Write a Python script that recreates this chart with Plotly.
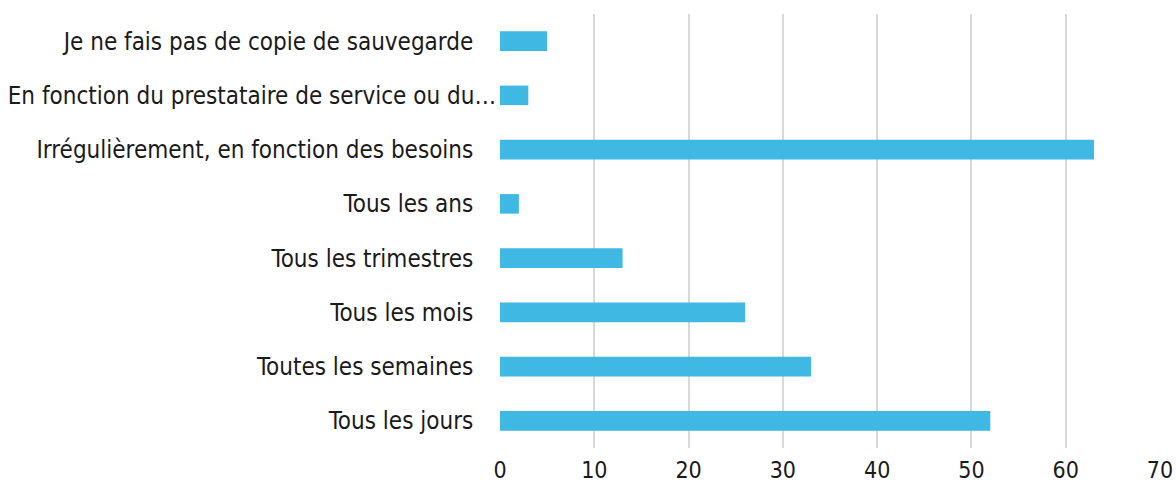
import plotly.graph_objects as go

categories = [
    "Tous les jours",
    "Toutes les semaines",
    "Tous les mois",
    "Tous les trimestres",
    "Tous les ans",
    "Irrégulièrement, en fonction des besoins",
    "En fonction du prestataire de service ou du…",
    "Je ne fais pas de copie de sauvegarde",
]
values = [52, 33, 26, 13, 2, 63, 3, 5]
x_ticks = [0, 10, 20, 30, 40, 50, 60, 70]

FONT = "DejaVu Sans Condensed, sans-serif"
TEXT_COLOR = "#1a1a1a"

ticktext = [c if c.endswith("…") else c + "\u00a0" * 3 + "\u200a" for c in categories]

fig = go.Figure(
    go.Bar(
        y=categories,
        x=values,
        orientation="h",
        marker=dict(color="#3FB8E3", line=dict(width=0)),
        width=0.36,
    )
)

fig.update_layout(
    width=1176,
    height=489,
    margin=dict(l=500, r=16, t=14, b=41),
    paper_bgcolor="white",
    plot_bgcolor="white",
    showlegend=False,
    font=dict(family=FONT, size=24, color=TEXT_COLOR),
)
fig.update_xaxes(
    range=[0, 70],
    tickvals=x_ticks,
    showgrid=True,
    gridcolor="#d9d9d9",
    gridwidth=2,
    zeroline=False,
    showline=False,
    ticks="",
    automargin=False,
    tickfont=dict(family=FONT, size=23, color=TEXT_COLOR),
    ticklabelstandoff=6,
)
fig.update_yaxes(
    categoryorder="array",
    categoryarray=categories,
    tickvals=categories,
    ticktext=ticktext,
    showgrid=False,
    zeroline=False,
    showline=False,
    ticks="",
    automargin=False,
    ticklabelstandoff=3,
    tickfont=dict(family=FONT, size=24, color=TEXT_COLOR),
)

fig.write_html(
    "out.html",
    config={"displayModeBar": False},
    post_script="document.body.style.margin='0';document.body.style.overflow='hidden';",
)
